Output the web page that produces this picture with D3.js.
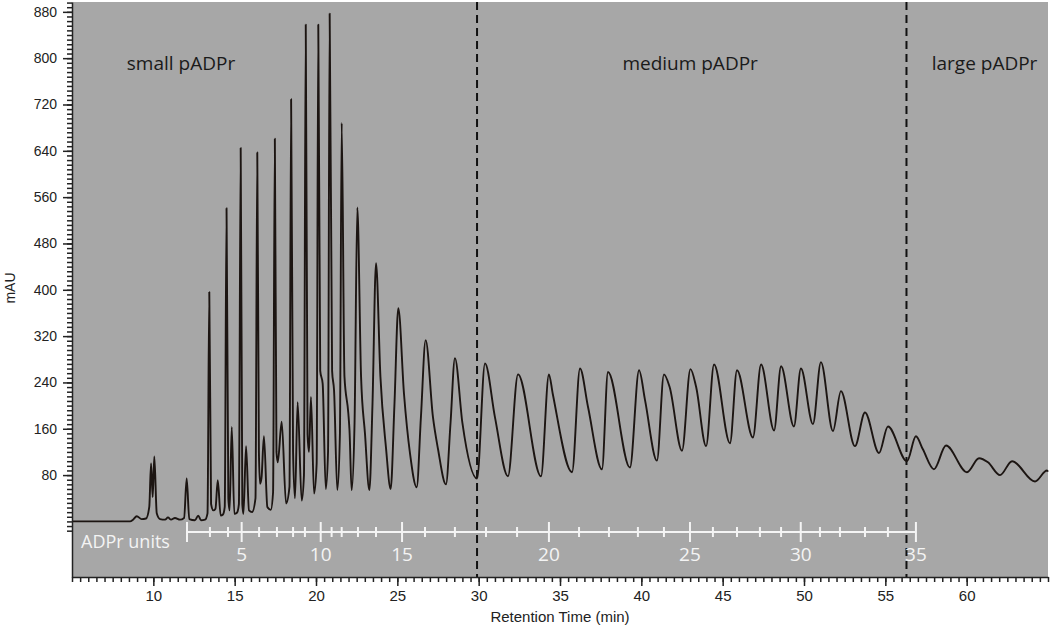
<!DOCTYPE html>
<html>
<head>
<meta charset="utf-8">
<script src="https://cdn.jsdelivr.net/npm/d3@7/dist/d3.min.js"></script>
<style>
  html, body { margin: 0; padding: 0; background: #fff; }
  svg { display: block; }
  .tick text { font-family: "Liberation Sans", Arial, sans-serif; fill: #222; }
  .lbl { font-family: "Open Sans", "Noto Sans", sans-serif; }
</style>
</head>
<body>
<svg width="1050" height="636"></svg>
<script>
// chromatogram trace: [retention time (min), absorbance (mAU)]
var trace = [
  [5.00, 0], [8.57, 0], [8.75, 3], [8.98, 9], [9.28, 4], [9.55, 5], [9.75, 25],
  [9.86, 100], [9.96, 42], [10.06, 112], [10.21, 14], [10.41, 4], [10.72, 3],
  [10.90, 7], [11.09, 3], [11.33, 6], [11.64, 3], [11.89, 6], [12.05, 74],
  [12.21, 4], [12.56, 2], [12.76, 10], [12.93, 2], [13.18, 3], [13.33, 14],
  [13.44, 396], [13.55, 30], [13.69, 19], [13.82, 22], [13.96, 71], [14.14, 10],
  [14.28, 12], [14.39, 25], [14.50, 541], [14.61, 40], [14.69, 19], [14.82, 163],
  [14.98, 13], [15.14, 15], [15.26, 30], [15.37, 645], [15.47, 30], [15.54, 13],
  [15.70, 130], [15.88, 19], [16.07, 16], [16.28, 40], [16.39, 637], [16.49, 120],
  [16.56, 65], [16.65, 75], [16.80, 147], [17.01, 25], [17.22, 20], [17.36, 50],
  [17.47, 661], [17.57, 120], [17.65, 102], [17.89, 172], [18.16, 31], [18.37, 60],
  [18.47, 729], [18.59, 120], [18.71, 40], [18.87, 206], [19.12, 36], [19.26, 80],
  [19.37, 858], [19.48, 150], [19.57, 120], [19.69, 215], [19.88, 48], [20.04, 100],
  [20.14, 858], [20.26, 260], [20.41, 238], [20.60, 56], [20.74, 120], [20.84, 877],
  [20.99, 260], [21.11, 226], [21.31, 54], [21.47, 150], [21.58, 688], [21.75, 250],
  [21.99, 186], [22.06, 157], [22.19, 54], [22.37, 170], [22.54, 542], [22.77, 250],
  [23.01, 152], [23.28, 54], [23.47, 200], [23.69, 446], [23.96, 250], [24.30, 128],
  [24.59, 56], [24.82, 200], [25.06, 368], [25.41, 220], [25.78, 117], [26.19, 59],
  [26.45, 180], [26.74, 313], [27.19, 180], [27.50, 125], [27.99, 64], [28.27, 170],
  [28.54, 282], [29.00, 170], [29.90, 74], [30.39, 273], [31.00, 180], [31.80, 78],
  [32.42, 254], [33.83, 78], [34.32, 254], [34.55, 221], [35.74, 85], [36.23, 264],
  [36.72, 198], [37.58, 90], [37.95, 258], [39.30, 93], [39.86, 261], [40.23, 209],
  [40.96, 105], [41.39, 254], [41.74, 232], [42.50, 122], [43.02, 263], [43.37, 232],
  [43.98, 130], [44.47, 271], [45.45, 135], [45.88, 261], [46.86, 145], [47.36, 271],
  [48.16, 157], [48.59, 268], [49.38, 164], [49.81, 264], [50.55, 168], [51.04, 275],
  [51.78, 156], [52.27, 225], [53.13, 130], [53.75, 188], [54.61, 118], [55.16, 164],
  [56.33, 104], [56.88, 147], [57.30, 125], [57.99, 90], [58.73, 131], [60.02, 85],
  [60.76, 109], [61.31, 102], [62.05, 80], [62.79, 104], [64.20, 69], [64.94, 88],
  [65.00, 86]
];

// retention time of each ADPr unit (units 2..35)
var adprUnits = d3.range(2, 36);
var adprTimes = [
  12.07, 13.48, 14.59, 15.43, 16.50, 17.60, 18.59, 19.32, 20.29, 20.96,
  21.58, 22.58, 23.69, 25.29, 26.70, 28.54, 30.45, 32.36, 34.32, 36.17,
  38.01, 39.79, 41.39, 42.99, 44.40, 45.88, 47.29, 48.59, 49.80, 50.98,
  52.21, 53.75, 55.16, 56.88
];

var regionBounds = [29.9, 56.3];
var regionNames = ["small pADPr", "medium pADPr", "large pADPr"];
var regionLabelTimes = [11.7, 43.0, 61.1];

var yTickValues = d3.range(80, 881, 80);
var xTickValues = d3.range(10, 61, 5);

var svg = d3.select("svg");
var plotL = 72, plotR = 1048, plotT = 2, plotB = 577;

var x = d3.scaleLinear().domain([5, 65]).range([plotL, plotR]);
var y = d3.scaleLinear().domain([-96, 897]).range([plotB, plotT]);

// plot background
svg.append("rect")
  .attr("x", plotL).attr("y", plotT)
  .attr("width", plotR - plotL).attr("height", plotB - plotT)
  .attr("fill", "#a7a7a7");

// region separators
svg.append("g").selectAll("line")
  .data(regionBounds)
  .enter().append("line")
  .attr("x1", function (d) { return x(d); })
  .attr("x2", function (d) { return x(d); })
  .attr("y1", plotT).attr("y2", plotB)
  .attr("stroke", "#111")
  .attr("stroke-width", 2)
  .attr("stroke-dasharray", "8,5");

// region labels
svg.append("g").selectAll("text")
  .data(regionNames)
  .enter().append("text")
  .attr("class", "lbl")
  .attr("x", function (d, i) { return x(regionLabelTimes[i]); })
  .attr("y", 70)
  .attr("text-anchor", "middle")
  .attr("font-size", 19)
  .attr("fill", "#1a1a1a")
  .text(function (d) { return d; });

// ADPr units ruler
var ruler = svg.append("g");
var rulerY = 532;
ruler.append("line")
  .attr("x1", x(adprTimes[0])).attr("x2", x(adprTimes[adprTimes.length - 1]))
  .attr("y1", rulerY).attr("y2", rulerY)
  .attr("stroke", "#f4f4f4").attr("stroke-width", 2);
ruler.selectAll(".rt")
  .data(adprTimes)
  .enter().append("line")
  .attr("class", "rt")
  .attr("x1", function (d) { return x(d); })
  .attr("x2", function (d) { return x(d); })
  .attr("y1", function (d, i) {
    var u = adprUnits[i];
    return (u % 5 === 0 || i === 0) ? rulerY - 10 : rulerY - 5;
  })
  .attr("y2", function (d, i) {
    var u = adprUnits[i];
    return (u % 5 === 0 || i === 0) ? rulerY + 10 : rulerY + 5;
  })
  .attr("stroke", "#f4f4f4").attr("stroke-width", 2);
ruler.selectAll(".rl")
  .data(adprTimes.filter(function (d, i) { return adprUnits[i] % 5 === 0; }))
  .enter().append("text")
  .attr("class", "lbl rl")
  .attr("x", function (d) { return x(d); })
  .attr("y", 561)
  .attr("text-anchor", "middle")
  .attr("font-size", 19)
  .attr("fill", "#f4f4f4")
  .text(function (d) { return adprUnits[adprTimes.indexOf(d)]; });
ruler.append("text")
  .attr("class", "lbl")
  .attr("x", 81).attr("y", 548)
  .attr("font-size", 18)
  .attr("fill", "#f4f4f4")
  .text("ADPr units");

// chromatogram
var line = d3.line()
  .x(function (d) { return x(d[0]); })
  .y(function (d) { return y(d[1]); })
  .curve(d3.curveMonotoneX);

svg.append("path")
  .datum(trace)
  .attr("d", line)
  .attr("fill", "none")
  .attr("stroke", "#1c1512")
  .attr("stroke-width", 1.9)
  .attr("stroke-linejoin", "round");

// y axis
svg.append("g")
  .attr("transform", "translate(" + plotL + ",0)")
  .call(d3.axisLeft(y).tickValues(d3.range(-16, 897, 8)).tickSize(5).tickSizeOuter(0).tickFormat(""))
  .call(function (g) { g.selectAll("line, path").attr("stroke", "#222").attr("stroke-width", 1.5); });
svg.append("g")
  .attr("transform", "translate(" + plotL + ",0)")
  .call(d3.axisLeft(y).tickValues(yTickValues).tickSize(9).tickSizeOuter(0).tickPadding(6))
  .call(function (g) {
    g.select(".domain").remove();
    g.selectAll("line").attr("stroke", "#222").attr("stroke-width", 1.5);
    g.selectAll("text").attr("font-size", 14);
  });

// x axis
svg.append("g")
  .attr("transform", "translate(0," + plotB + ")")
  .call(d3.axisBottom(x).tickValues(d3.range(5, 65.01, 0.5)).tickSize(5).tickSizeOuter(0).tickFormat(""))
  .call(function (g) { g.selectAll("line, path").attr("stroke", "#222").attr("stroke-width", 1.5); });
svg.append("g")
  .attr("transform", "translate(0," + plotB + ")")
  .call(d3.axisBottom(x).tickValues(xTickValues).tickSize(9).tickSizeOuter(0).tickPadding(4))
  .call(function (g) {
    g.select(".domain").remove();
    g.selectAll("line").attr("stroke", "#222").attr("stroke-width", 1.5);
    g.selectAll("text").attr("font-size", 15);
  });

// axis titles
svg.append("text")
  .attr("x", x(35)).attr("y", 622)
  .attr("text-anchor", "middle")
  .attr("font-family", "Liberation Sans, Arial, sans-serif")
  .attr("font-size", 15)
  .attr("fill", "#222")
  .text("Retention Time (min)");
svg.append("text")
  .attr("transform", "translate(15,288) rotate(-90)")
  .attr("text-anchor", "middle")
  .attr("font-family", "Liberation Sans, Arial, sans-serif")
  .attr("font-size", 14)
  .attr("fill", "#222")
  .text("mAU");
</script>
</body>
</html>
